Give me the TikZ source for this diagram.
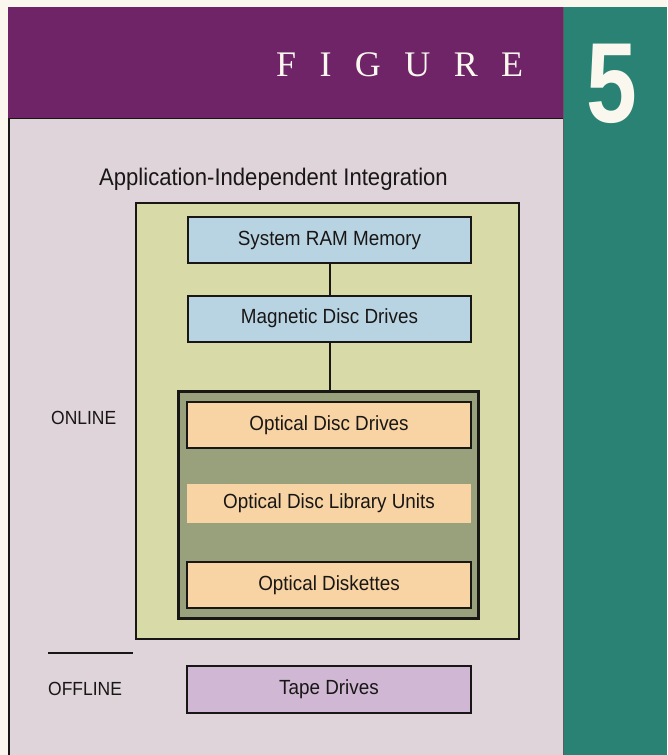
\documentclass[tikz,border=0pt]{standalone}
\usepackage{fontspec}
\setmainfont{Liberation Sans}[FakeStretch=0.92]
\newfontfamily\figfont{Liberation Serif}[LetterSpace=65]
\newfontfamily\numfont{Liberation Sans Bold}
\definecolor{paper}{RGB}{250,247,238}
\definecolor{plum}{RGB}{112,36,104}
\definecolor{teal5}{RGB}{42,130,116}
\definecolor{lav}{RGB}{222,212,218}
\definecolor{pale}{RGB}{216,219,168}
\definecolor{sky}{RGB}{184,212,226}
\definecolor{peach}{RGB}{248,212,164}
\definecolor{tape}{RGB}{208,184,212}
\definecolor{khaki}{RGB}{152,160,124}
\definecolor{ink}{RGB}{25,22,22}
\tikzset{
  lbl/.style={font=\fontsize{19}{21}\selectfont, text=ink, inner sep=0pt},
  boxtext/.style={font=\fontsize{20.5}{23}\selectfont, text=ink, inner sep=0pt},
  bluebox/.style={boxtext, draw=ink, line width=2pt, fill=sky, minimum width=283pt, minimum height=46pt},
  peachbox/.style={boxtext, draw=ink, line width=2.5pt, fill=peach, minimum width=284pt, minimum height=46pt},
  bandbox/.style={boxtext, fill=peach, minimum width=284pt, minimum height=39pt},
  tapebox/.style={boxtext, draw=ink, line width=2pt, fill=tape, minimum width=284pt, minimum height=47pt},
  link/.style={draw=ink, line width=2pt}
}
\begin{document}
\begin{tikzpicture}[x=1pt,y=-1pt]
\useasboundingbox (0,0) rectangle (667,755);
% backgrounds
\fill[paper] (0,0) rectangle (667,755);
\fill[plum] (8,7) rectangle (563,118);
\fill[teal5] (563,7) rectangle (667,755);
\draw[ink!70, line width=1pt] (563.5,7) -- (563.5,755);
\fill[lav] (9,118) rectangle (563,755);
\draw[ink, line width=1pt] (9,118) -- (563,118);
\draw[ink, line width=1.2pt] (9,118) -- (9,755);
% header texts
\node[anchor=base west, inner sep=0pt, text=paper, font=\figfont\fontsize{36}{38}\selectfont] (fig) at (276,76) {FIGURE};
\node[anchor=center, inner sep=0pt, text=paper, font=\numfont\fontsize{114}{120}\selectfont] (num) at (612,84) {\scalebox{0.8}[1]{5}};
% title
\node[anchor=west, inner sep=0pt, text=ink, font=\fontsize{24}{26}\selectfont] (title) at (99,179) {Application-Independent Integration};
% online container
\draw[ink, line width=1.6pt, fill=pale] (136,203) rectangle (519,639);
\node[lbl, anchor=west] (online) at (51,418) {ONLINE};
\draw[ink, line width=1.3pt] (48,653) -- (133,653);
\node[lbl, anchor=west] (offline) at (48,689) {OFFLINE};
% blue boxes
\node[bluebox] (ram) at (329.5,240) {System RAM Memory};
\node[bluebox] (mag) at (329.5,318.5) {Magnetic Disc Drives};
% optical group
\node[draw=ink, line width=3pt, fill=khaki, minimum width=300pt, minimum height=227pt, inner sep=0pt] (grp) at (328.5,505) {};
\node[peachbox] (odd) at (329,425) {Optical Disc Drives};
\node[bandbox] (odl) at (329,503.5) {Optical Disc Library Units};
\node[peachbox] (odk) at (329,585) {Optical Diskettes};
% offline
\node[tapebox] (tape) at (329,689.5) {Tape Drives};
% connectors
\draw[link] (ram.south) -- (mag.north);
\draw[link] (mag.south) -- (mag.south |- grp.north);
\end{tikzpicture}
\end{document}
